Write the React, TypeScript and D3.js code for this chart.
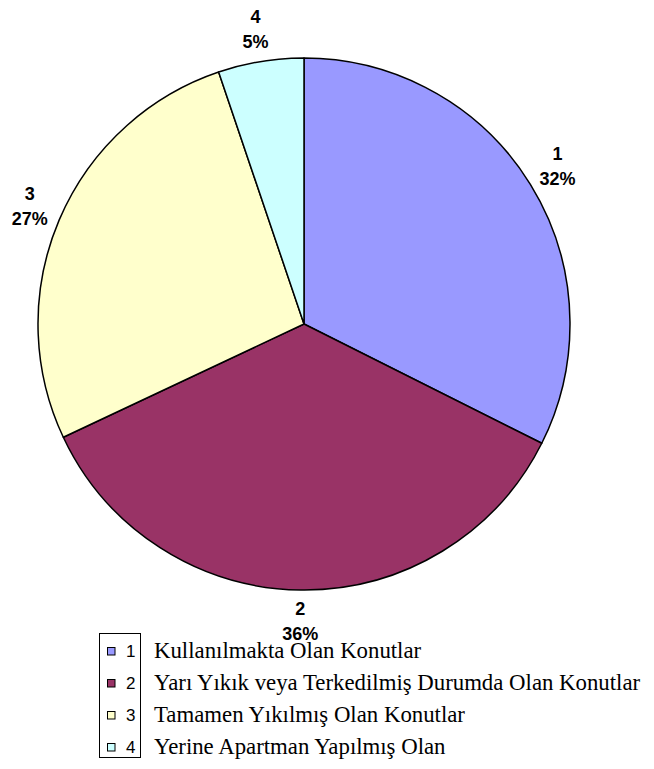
import { useEffect, useRef } from 'react';
import * as d3 from 'd3';

const categories = ['1', '2', '3', '4'];
const values = [32.4, 35.6, 26.8, 5.2];
const labels = [
  'Kullanılmakta Olan Konutlar',
  'Yarı Yıkık veya Terkedilmiş Durumda Olan Konutlar',
  'Tamamen Yıkılmış Olan Konutlar',
  'Yerine Apartman Yapılmış Olan',
];
const colors = ['#9999FF', '#993366', '#FFFFCC', '#CCFFFF'];

export default function App() {
  const svgRef = useRef<SVGSVGElement | null>(null);

  useEffect(() => {
    const width = 654;
    const height = 769;
    const svg = d3.select(svgRef.current).attr('width', width).attr('height', height);
    svg.selectAll('*').remove();

    svg.append('rect').attr('width', width).attr('height', height).attr('fill', '#ffffff');

    const cx = 304;
    const cy = 324;
    const r = 266;
    const total = d3.sum(values);

    const pie = d3.pie<number>().sort(null).value(d => d);
    const arcs = pie(values);
    const arc = d3.arc<d3.PieArcDatum<number>>().innerRadius(0).outerRadius(r);
    const labelArc = d3.arc<d3.PieArcDatum<number>>().innerRadius(298).outerRadius(298);

    const g = svg.append('g').attr('transform', `translate(${cx},${cy})`);

    g.selectAll('path')
      .data(arcs)
      .enter()
      .append('path')
      .attr('d', arc)
      .attr('fill', (d, i) => colors[i])
      .attr('stroke', '#000')
      .attr('stroke-width', 1.5)
      .attr('stroke-linejoin', 'round');

    // slice labels: category + percent
    const lbl = g.selectAll('g.lbl')
      .data(arcs)
      .enter()
      .append('g')
      .attr('class', 'lbl')
      .attr('transform', d => `translate(${labelArc.centroid(d)})`)
      .attr('font-family', "'Liberation Sans', Arial, sans-serif")
      .attr('font-weight', 'bold')
      .attr('font-size', '18px')
      .attr('text-anchor', 'middle')
      .attr('fill', '#000');

    lbl.append('text').attr('y', -7).text((d, i) => categories[i]);
    lbl.append('text').attr('y', 18).text(d => `${Math.round((d.value / total) * 100)}%`);

    // legend
    const lx = 99;
    const ly = 633;
    svg.append('rect')
      .attr('x', lx + 0.5)
      .attr('y', ly + 0.5)
      .attr('width', 41)
      .attr('height', 124)
      .attr('fill', 'none')
      .attr('stroke', '#000')
      .attr('stroke-width', 1);

    const rows = svg.append('g')
      .selectAll('g')
      .data(categories)
      .enter()
      .append('g')
      .attr('transform', (d, i) => `translate(0,${651 + i * 32})`);

    rows.append('rect')
      .attr('x', 107.5)
      .attr('y', -3.5)
      .attr('width', 7.5)
      .attr('height', 7.5)
      .attr('fill', (d, i) => colors[i])
      .attr('stroke', '#000')
      .attr('stroke-width', 1);

    rows.append('text')
      .attr('x', 126)
      .attr('y', 5.5)
      .attr('font-family', "'Liberation Sans', Arial, sans-serif")
      .attr('font-size', '17px')
      .attr('fill', '#000')
      .text(d => d);

    rows.append('text')
      .attr('x', 154)
      .attr('y', 7)
      .attr('font-family', "'Liberation Serif', 'Times New Roman', serif")
      .attr('font-size', '22.8px')
      .attr('fill', '#000')
      .text((d, i) => labels[i]);
  }, []);

  return (
    <div style={{ position: 'absolute', left: 0, top: 0 }}>
      <svg ref={svgRef} style={{ display: 'block' }}></svg>
    </div>
  );
}
